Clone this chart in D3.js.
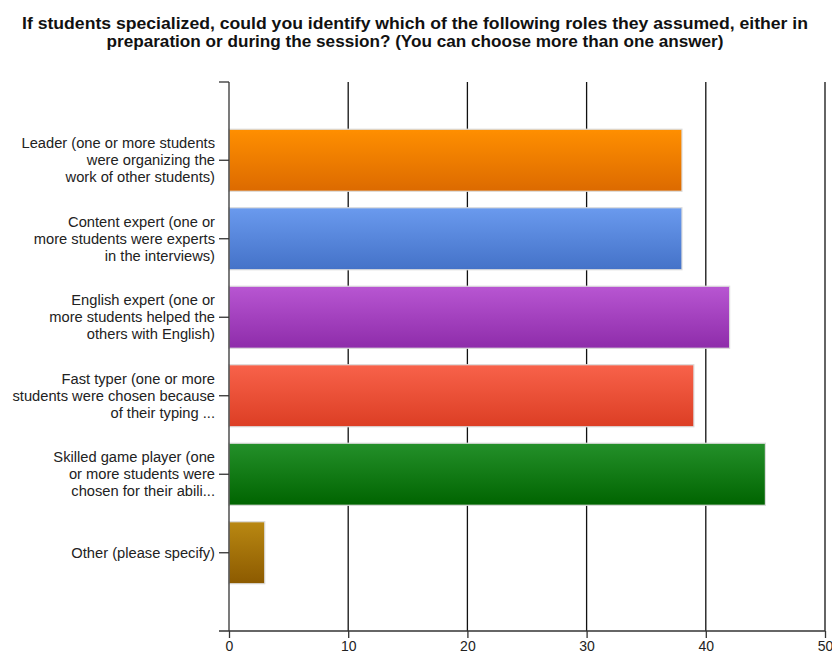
<!DOCTYPE html>
<html>
<head>
<meta charset="utf-8">
<script src="https://cdn.jsdelivr.net/npm/d3@7"></script>
<style>
  body { margin: 0; background: #fff; }
  text { font-family: "Liberation Sans", Arial, sans-serif; }
</style>
</head>
<body>
<div id="chart"></div>
<script>
const width = 832;
const height = 654;

// data
const categories = [
    ["Leader (one or more students", "were organizing the", "work of other students)"],
    ["Content expert (one or", "more students were experts", "in the interviews)"],
    ["English expert (one or", "more students helped the", "others with English)"],
    ["Fast typer (one or more", "students were chosen because", "of their typing ..."],
    ["Skilled game player (one", "or more students were", "chosen for their abili..."],
    ["Other (please specify)"]
];
const values = [38, 38, 42, 39, 45, 3];
const colorsTop = ["#ff8f00", "#6a9aee", "#b856d2", "#f8624a", "#24902a", "#b98812"];
const colorsBottom = ["#dc6a00", "#4472c8", "#8e2caa", "#dc3e24", "#006400", "#8c5a00"];
const xTicks = [0, 10, 20, 30, 40, 50];
const titleLines = [
    "If students specialized, could you identify which of the following roles they assumed, either in",
    "preparation or during the session? (You can choose more than one answer)"
];
const titleWidths = [786, 617];

const plot = { left: 229, right: 825, top: 82, bottom: 631 };

const svg = d3.select("#chart")
    .append("svg")
    .attr("width", width)
    .attr("height", height);

const x = d3.scaleLinear()
    .domain([0, 50])
    .range([plot.left, plot.right]);

const y = d3.scaleBand()
    .domain(d3.range(categories.length))
    .range([121, 592])
    .paddingInner(0.21)
    .paddingOuter(0.105);

// gradients
const defs = svg.append("defs");
values.forEach((v, i) => {
    const g = defs.append("linearGradient")
        .attr("id", "grad" + i)
        .attr("x1", 0).attr("y1", 0)
        .attr("x2", 0).attr("y2", 1);
    g.append("stop").attr("offset", "0%").attr("stop-color", colorsTop[i]);
    g.append("stop").attr("offset", "100%").attr("stop-color", colorsBottom[i]);
});

// title
svg.append("g")
    .selectAll("text")
    .data(titleLines)
    .join("text")
        .attr("x", 415)
        .attr("y", (d, i) => 29 + i * 18)
        .attr("text-anchor", "middle")
        .attr("textLength", (d, i) => titleWidths[i])
        .attr("lengthAdjust", "spacingAndGlyphs")
        .style("font-size", "16px")
        .style("font-weight", "bold")
        .style("fill", "#111")
        .text(d => d);

// vertical grid lines
svg.append("g")
    .selectAll("line")
    .data(xTicks.slice(1))
    .join("line")
        .attr("x1", d => x(d))
        .attr("x2", d => x(d))
        .attr("y1", plot.top)
        .attr("y2", plot.bottom)
        .style("stroke", "#111")
        .style("stroke-width", 1.3);

// bars
svg.append("g")
    .selectAll("rect")
    .data(values)
    .join("rect")
        .attr("x", x(0))
        .attr("y", (d, i) => y(i))
        .attr("width", d => x(d) - x(0))
        .attr("height", y.bandwidth())
        .attr("fill", (d, i) => `url(#grad${i})`)
        .style("stroke", "#dcdcdc")
        .style("stroke-width", 1.2);

// left axis
const left = svg.append("g");
left.append("line")
    .attr("x1", plot.left).attr("x2", plot.left)
    .attr("y1", plot.top).attr("y2", plot.bottom)
    .style("stroke", "#333").style("stroke-width", 1.3);
left.append("line")
    .attr("x1", plot.left - 10).attr("x2", plot.left)
    .attr("y1", plot.top).attr("y2", plot.top)
    .style("stroke", "#333").style("stroke-width", 1.3);

const cat = left.selectAll("g.cat")
    .data(categories)
    .join("g")
        .attr("class", "cat")
        .attr("transform", (d, i) => `translate(0, ${y(i) + y.bandwidth() / 2})`);

cat.append("line")
    .attr("x1", plot.left - 10).attr("x2", plot.left)
    .style("stroke", "#333").style("stroke-width", 1.3);

cat.selectAll("text")
    .data(d => d.map((t, j) => ({ t: t, j: j, n: d.length })))
    .join("text")
        .attr("x", plot.left - 14)
        .attr("y", d => (d.j - (d.n - 1) / 2) * 17)
        .attr("dy", "0.35em")
        .attr("text-anchor", "end")
        .style("font-size", "14.7px")
        .style("fill", "#222")
        .text(d => d.t);

// bottom axis
const bottom = svg.append("g")
    .attr("transform", `translate(0, ${plot.bottom})`)
    .call(d3.axisBottom(x).tickValues(xTicks).tickSize(7).tickSizeOuter(0));

bottom.select(".domain").remove();
bottom.append("line")
    .attr("x1", plot.left - 10).attr("x2", plot.right)
    .style("stroke", "#333").style("stroke-width", 1.3);
bottom.selectAll(".tick line").style("stroke", "#333").style("stroke-width", 1.3);
bottom.selectAll(".tick text")
    .attr("y", 10)
    .style("font-size", "14px")
    .style("font-family", "'Liberation Sans', Arial, sans-serif")
    .style("fill", "#222");
</script>
</body>
</html>
